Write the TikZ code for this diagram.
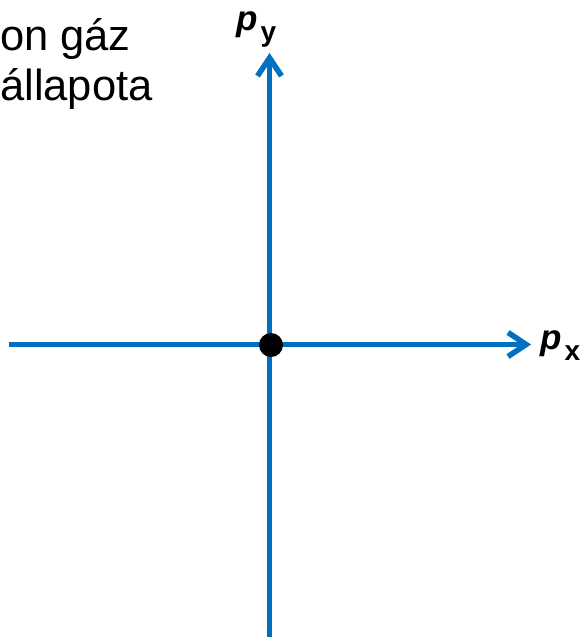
\documentclass[tikz,border=0pt]{standalone}
\usepackage{fontspec}
\setmainfont{Liberation Sans}
\usetikzlibrary{arrows.meta}
\definecolor{axisblue}{RGB}{0,112,192}
\tikzset{
  axis/.style={draw=axisblue, line width=5.5pt, -{Straight Barb[length=18pt,width=24pt]}},
  bigtext/.style={inner sep=0pt, anchor=base west, font=\fontsize{43.5}{54}\selectfont},
  axlabel/.style={inner sep=0pt, anchor=base west},
}
\newcommand{\axlab}[1]{{\fontsize{35}{35}\selectfont\bfseries\itshape p}\kern3pt\raisebox{-11pt}{\fontsize{28}{28}\selectfont\bfseries #1}}
\begin{document}
\begin{tikzpicture}[x=1pt,y=-1pt]
\useasboundingbox (0,0) rectangle (585,637);
\clip (0,0) rectangle (585,637);
\node[bigtext] (t1) at (0,50) {on gáz};
\node[bigtext] (t2) at (0,100) {állapota};
\coordinate (xl) at (9,344.5);
\coordinate (xr) at (531,344.5);
\coordinate (yb) at (269.5,640);
\coordinate (yt) at (269.5,53);
\draw[axis] (yb) -- (yt);
\draw[axis] (xl) -- (xr);
\node[axlabel] (py) at (236,30) {\axlab{y}};
\node[axlabel] (px) at (540,349) {\axlab{x}};
\fill[black] (271,345) circle (12);
\node[inner sep=0pt] (o) at (271,345) {};
\end{tikzpicture}
\end{document}
